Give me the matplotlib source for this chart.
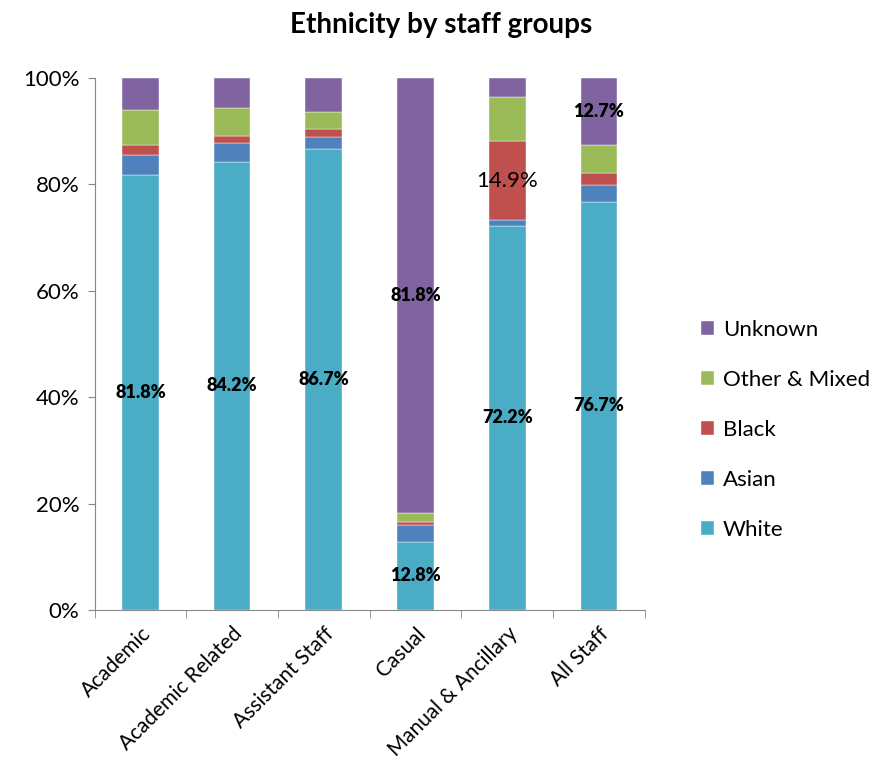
import matplotlib.pyplot as plt
import numpy as np

# --- Données (en %) ---
groups = ["Academic", "Academic Related", "Assistant Staff", "Casual",
          "Manual & Ancillary", "All Staff"]
white = [81.8, 84.2, 86.7, 12.8, 72.2, 76.7]
asian = [3.7, 3.6, 2.2, 3.2, 1.0, 3.1]
black = [1.9, 1.2, 1.5, 0.6, 14.9, 2.3]
other_mixed = [6.5, 5.4, 3.2, 1.6, 8.3, 5.2]
unknown = [6.1, 5.6, 6.4, 81.8, 3.6, 12.7]

series = [("White", white, "#4bacc6"),
          ("Asian", asian, "#4f81bd"),
          ("Black", black, "#c0504d"),
          ("Other & Mixed", other_mixed, "#9bbb59"),
          ("Unknown", unknown, "#8064a2")]

plt.rcParams["font.family"] = ["Lato", "DejaVu Sans"]

fig = plt.figure(figsize=(8.76, 7.78), dpi=100)
ax = fig.add_axes([0.108, 0.216, 0.628, 0.684])

x = np.arange(len(groups))
bottom = np.zeros(len(groups))
bars = {}
for name, vals, col in series:
    bars[name] = ax.bar(x, vals, 0.4, bottom=bottom, color=col, label=name,
                        edgecolor="white", linewidth=0.3)
    bottom += np.array(vals)

# Étiquettes de données
for i in range(len(groups)):
    ax.text(x[i], white[i] / 2, f"{white[i]:.1f}%", ha="center", va="center",
            fontsize=13, fontweight="heavy")
# Casual : Unknown
ci = groups.index("Casual")
base = 100 - unknown[ci]
ax.text(x[ci], base + unknown[ci] / 2, f"{unknown[ci]:.1f}%", ha="center",
        va="center", fontsize=13, fontweight="heavy")
# Manual : Black
mi = groups.index("Manual & Ancillary")
base = white[mi] + asian[mi]
ax.text(x[mi], base + black[mi] / 2, f"{black[mi]:.1f}%", ha="center",
        va="center", fontsize=16)
# All Staff : Unknown
ai = groups.index("All Staff")
base = 100 - unknown[ai]
ax.text(x[ai], base + unknown[ai] / 2, f"{unknown[ai]:.1f}%", ha="center",
        va="center", fontsize=13, fontweight="heavy")

ax.set_xlim(-0.5, len(groups) - 0.5)
ax.set_ylim(0, 100)
ax.set_yticks(np.arange(0, 101, 20))
ax.set_yticklabels([f"{v}%" for v in range(0, 101, 20)], fontsize=16)
ax.set_xticks(x)
ax.set_xticklabels(groups, rotation=45, ha="right", rotation_mode="anchor",
                   fontsize=15)
ax.tick_params(axis="x", which="major", length=0, pad=10)
ax.set_xticks(np.arange(-0.5, len(groups), 1), minor=True)
ax.tick_params(axis="x", which="minor", length=6, color="#888888")
ax.tick_params(axis="y", length=5, color="#888888", pad=6)

for s in ["top", "right"]:
    ax.spines[s].set_visible(False)
for s in ["left", "bottom"]:
    ax.spines[s].set_color("#888888")

fig.suptitle("Ethnicity by staff groups", x=0.504, y=0.985, fontsize=20,
             fontweight="bold")

handles = [bars[n] for n, _, _ in reversed(series)]
labels = [n for n, _, _ in reversed(series)]
fig.legend(handles, labels, loc="center left", bbox_to_anchor=(0.777, 0.447),
           frameon=False, fontsize=16, labelspacing=1.35, handlelength=0.6,
           handleheight=0.6, handletextpad=0.4)

fig.savefig("out.png", dpi=100)
